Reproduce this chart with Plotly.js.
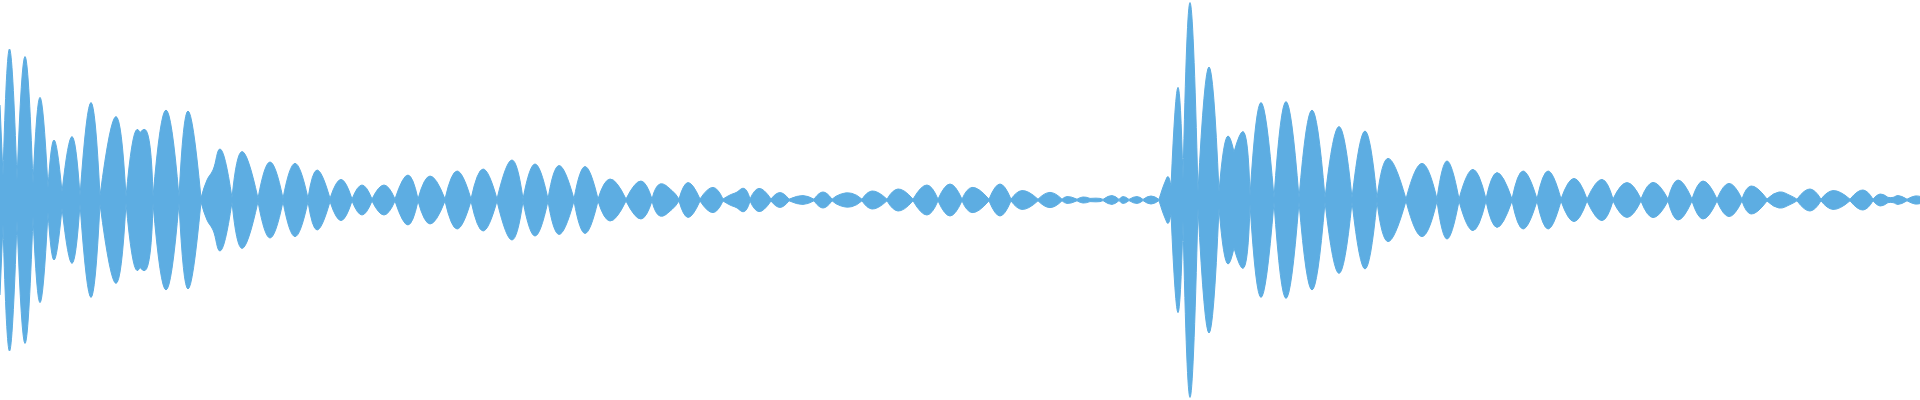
<!DOCTYPE html>
<html>
<head>
<meta charset="utf-8">
<script src="https://cdn.plot.ly/plotly-3.0.1.min.js"></script>
<style>
html, body { margin: 0; padding: 0; background: #ffffff; }
#chart { width: 1920px; height: 400px; }
</style>
</head>
<body>
<div id="chart"></div>
<script>
// Waveform envelope: sample position and peak amplitude (normalised, -1..1)
const time = [
  0, 3, 9.5, 17, 25, 33, 40, 48, 54, 62, 72, 80, 91, 100, 116, 126, 137, 140, 145, 153,
  166, 179, 188, 201, 207, 213, 220, 232, 242, 258, 270, 283, 295, 308, 317, 330, 341, 352, 362, 372,
  384, 395, 408, 418, 430, 445, 457, 471, 483, 497, 512, 523, 535, 548, 559, 574, 585, 598, 610, 626,
  641, 652, 660, 672, 679, 688, 700, 713, 723, 730, 736, 744, 750, 759, 771, 780, 789, 803, 814, 823,
  832, 840, 852, 862, 872, 887, 898, 913, 927, 938, 950, 962, 972, 989, 1000, 1011, 1022, 1038, 1050, 1062,
  1067, 1077, 1083, 1090, 1100, 1103, 1112, 1119, 1123, 1129, 1137, 1143, 1151, 1159, 1165, 1168, 1171, 1178, 1183, 1190,
  1198, 1209, 1219, 1228, 1234, 1243, 1250, 1261, 1274, 1286, 1299, 1312, 1325, 1339, 1352, 1365, 1377, 1388, 1406, 1422,
  1437, 1447, 1459, 1473, 1486, 1497, 1512, 1523, 1537, 1548, 1561, 1574, 1587, 1602, 1613, 1627, 1641, 1653, 1668, 1678,
  1692, 1703, 1717, 1729, 1742, 1751, 1767, 1779, 1790, 1797, 1810, 1821, 1833, 1850, 1863, 1873, 1880, 1888, 1893, 1898,
  1907, 1915, 1920
];
const amplitude = [
  0.475, 0.12, 0.755, 0.1, 0.717, 0.08, 0.513, 0.06, 0.30, 0.04, 0.317, 0.02, 0.487, 0.02, 0.417, 0.015, 0.353, 0.337, 0.353, 0.015,
  0.45, 0.015, 0.445, 0.01, 0.1, 0.15, 0.255, 0.01, 0.242, 0.008, 0.19, 0.008, 0.183, 0.008, 0.15, 0.008, 0.103, 0.005, 0.075, 0.005,
  0.075, 0.005, 0.125, 0.005, 0.12, 0.005, 0.145, 0.005, 0.155, 0.005, 0.2, 0.005, 0.18, 0.005, 0.172, 0.005, 0.167, 0.005, 0.105, 0.005,
  0.095, 0.005, 0.08, 0.047, 0.005, 0.087, 0.005, 0.063, 0.005, 0.025, 0.037, 0.058, 0.005, 0.058, 0.005, 0.037, 0.004, 0.022, 0.004, 0.04,
  0.004, 0.028, 0.033, 0.004, 0.045, 0.004, 0.055, 0.004, 0.075, 0.004, 0.08, 0.004, 0.063, 0.004, 0.08, 0.004, 0.047, 0.004, 0.038, 0.004,
  0.017, 0.004, 0.015, 0.008, 0.008, 0.003, 0.022, 0.003, 0.017, 0.003, 0.017, 0.003, 0.02, 0.003, 0.09, 0.117, 0.067, 0.563, 0.1, 0.987,
  0.04, 0.665, 0.04, 0.32, 0.24, 0.342, 0.02, 0.487, 0.01, 0.492, 0.01, 0.45, 0.01, 0.367, 0.01, 0.345, 0.008, 0.208, 0.005, 0.183,
  0.005, 0.195, 0.005, 0.153, 0.005, 0.137, 0.005, 0.145, 0.005, 0.145, 0.005, 0.108, 0.005, 0.103, 0.005, 0.087, 0.005, 0.088, 0.005, 0.1,
  0.005, 0.095, 0.005, 0.083, 0.005, 0.07, 0.005, 0.04, 0.023, 0.004, 0.055, 0.004, 0.047, 0.004, 0.05, 0.004, 0.03, 0.013, 0.013, 0.022,
  0.004, 0.02, 0.018
];

const waveColor = '#5dade2';

// Split the envelope into lobes at its pinch points (local minima) so that
// each lobe is smoothed on its own and meets the next one in a sharp pinch.
function lobeSegments(xs, ys, sign) {
  const sx = [], sy = [];
  const n = xs.length;
  for (let i = 0; i < n; i++) {
    sx.push(xs[i]);
    sy.push(sign * ys[i]);
    const isPinch = i > 0 && i < n - 1 && ys[i] < ys[i - 1] && ys[i] <= ys[i + 1];
    if (isPinch) {
      sx.push(null); sy.push(null);
      sx.push(xs[i]); sy.push(sign * ys[i]);
    }
  }
  return { x: sx, y: sy };
}

const upper = lobeSegments(time, amplitude, 1);
const lower = lobeSegments(time, amplitude, -1);

const common = {
  type: 'scatter',
  mode: 'lines',
  fill: 'tozeroy',
  fillcolor: waveColor,
  connectgaps: false,
  line: { color: waveColor, width: 1, shape: 'spline', smoothing: 1.3 },
  hoverinfo: 'skip',
  showlegend: false
};

const traces = [
  Object.assign({}, common, { x: upper.x, y: upper.y }),
  Object.assign({}, common, { x: lower.x, y: lower.y })
];

const layout = {
  width: 1920,
  height: 400,
  margin: { l: 0, r: 0, t: 0, b: 0 },
  paper_bgcolor: '#ffffff',
  plot_bgcolor: '#ffffff',
  xaxis: { range: [0, 1920], visible: false, fixedrange: true },
  yaxis: { range: [-1, 1], visible: false, fixedrange: true, zeroline: false }
};

Plotly.newPlot('chart', traces, layout, { displayModeBar: false, staticPlot: true });
</script>
</body>
</html>
